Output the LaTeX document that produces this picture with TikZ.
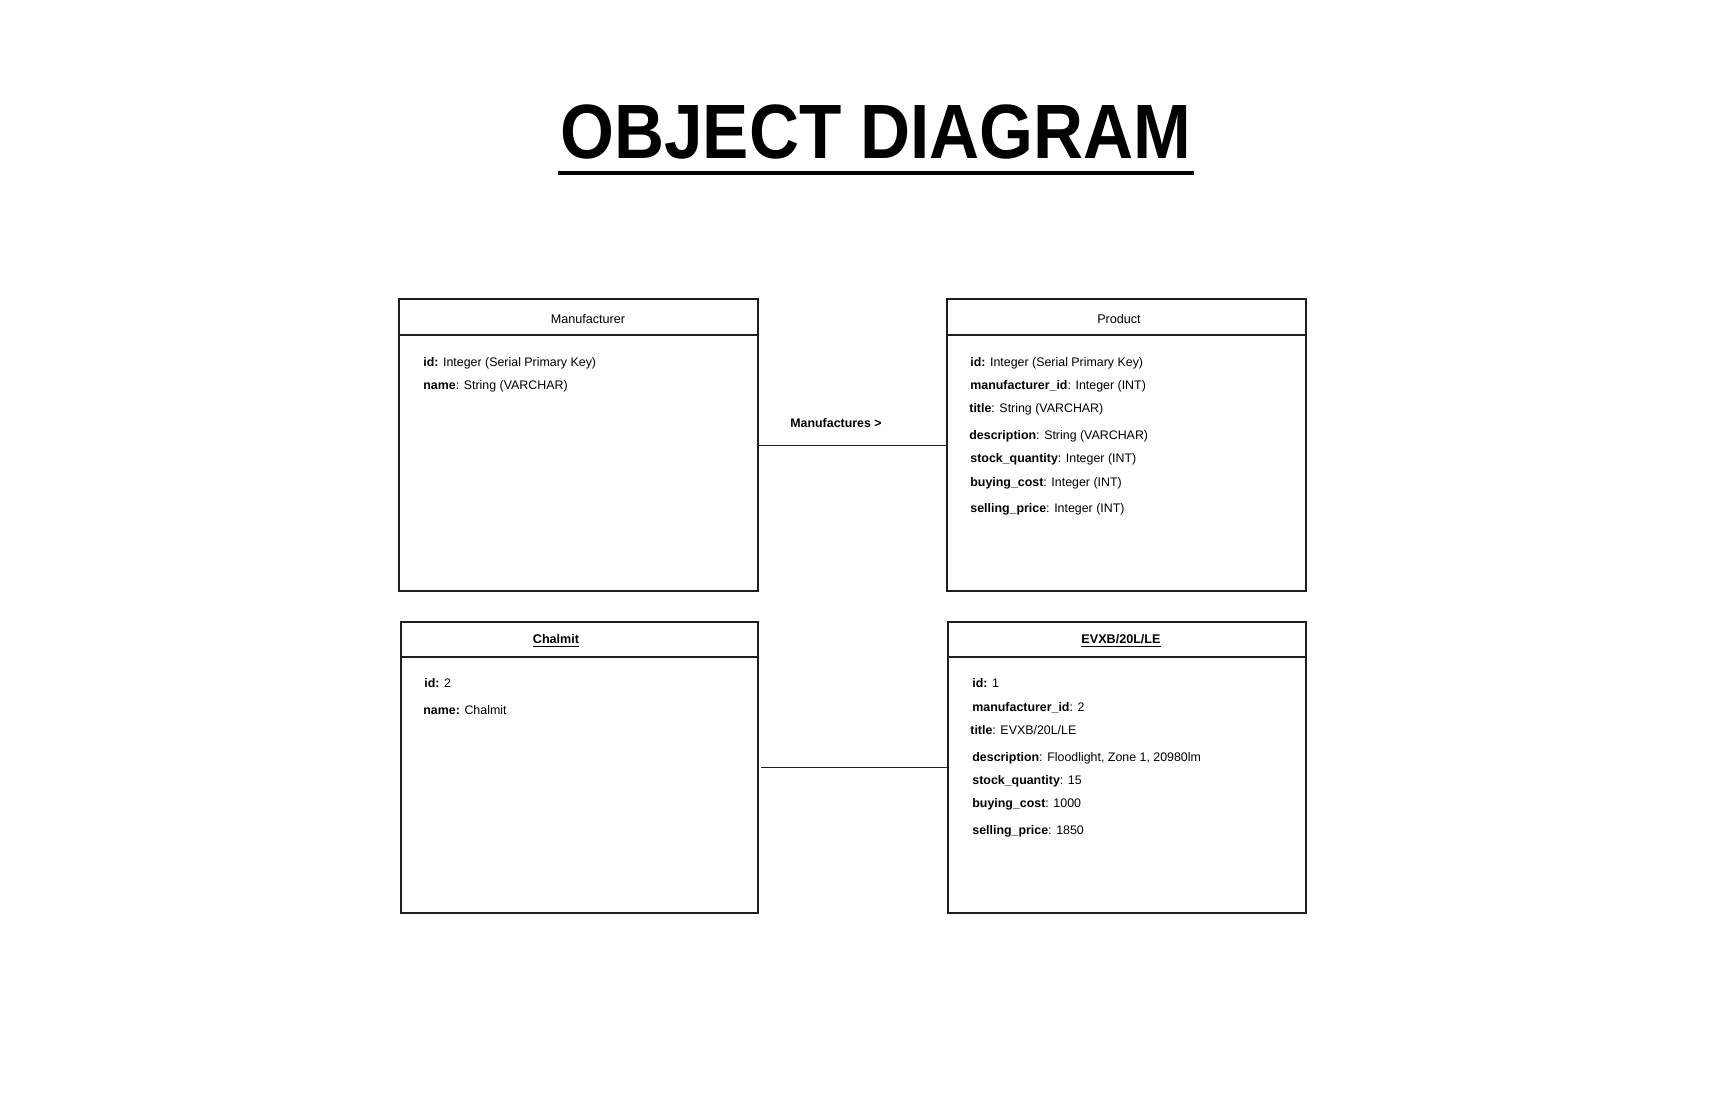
\documentclass[tikz,border=0pt]{standalone}
\usepackage{fontspec}
\setmainfont{Liberation Sans}
\usepackage{graphicx}
\definecolor{edge}{HTML}{1E1E1E}
\begin{document}
\begin{tikzpicture}[x=0.5pt,y=-0.5pt,
  box/.style={draw=edge, line width=0.55pt, rectangle, inner sep=0pt, outer sep=0pt, fill=white},
  hdr/.style={anchor=base, inner sep=0pt, font=\fontsize{6.3pt}{7.5pt}\selectfont},
  attr/.style={anchor=base west, inner sep=0pt, font=\fontsize{6.2pt}{7.5pt}\selectfont},
  conn/.style={draw=edge, line width=0.5pt},
  sep/.style={draw=edge, line width=0.55pt}]
\useasboundingbox[fill=white] (0,0) rectangle (1728,1117);

% title
\node[anchor=base, inner sep=0pt, font=\fontsize{38.5pt}{40pt}\selectfont\bfseries] (title) at (876,159) {\scalebox{0.9}[1.0]{OBJECT DIAGRAM}};
\draw[line width=2.3pt] (558,173) -- (1194,173);

% boxes
\node[box, minimum width=179.5pt, minimum height=146pt] (mfr) at (578.5,445) {};
\node[box, minimum width=179.5pt, minimum height=146pt] (prod) at (1126.5,445) {};
\node[box, minimum width=178.5pt, minimum height=145.5pt] (chal) at (579.5,767.5) {};
\node[box, minimum width=179pt, minimum height=145.5pt] (evx) at (1127,767.5) {};

% header separators
\draw[sep] ([yshift=-18pt]mfr.north west) -- ([yshift=-18pt]mfr.north east);
\draw[sep] ([yshift=-18pt]prod.north west) -- ([yshift=-18pt]prod.north east);
\draw[sep] ([yshift=-17.5pt]chal.north west) -- ([yshift=-17.5pt]chal.north east);
\draw[sep] ([yshift=-17.5pt]evx.north west) -- ([yshift=-17.5pt]evx.north east);

% headers
\node[hdr] (mfrh) at (588,323.5) {Manufacturer};
\node[hdr] (prodh) at (1119,323.5) {Product};
\node[hdr] (chalh) at (556,643.5) {\textbf{\underline{Chalmit}}};
\node[hdr] (evxh) at (1121,643.5) {\textbf{\underline{EVXB/20L/LE}}};

% Manufacturer attributes
\node[attr] (m1) at (423,366) {\textbf{id:} Integer (Serial Primary Key)};
\node[attr] (m2) at (423,389.5) {\textbf{name}: String (VARCHAR)};

% Product attributes
\node[attr] (p1) at (970,366) {\textbf{id:} Integer (Serial Primary Key)};
\node[attr] (p2) at (970,389.5) {\textbf{manufacturer\_id}: Integer (INT)};
\node[attr] (p3) at (969,412.5) {\textbf{title}: String (VARCHAR)};
\node[attr] (p4) at (969,439) {\textbf{description}: String (VARCHAR)};
\node[attr] (p5) at (970,462.5) {\textbf{stock\_quantity}: Integer (INT)};
\node[attr] (p6) at (970,486.5) {\textbf{buying\_cost}: Integer (INT)};
\node[attr] (p7) at (970,512) {\textbf{selling\_price}: Integer (INT)};

% Chalmit attributes
\node[attr] (c1) at (424,687) {\textbf{id:} 2};
\node[attr] (c2) at (423,714) {\textbf{name:} Chalmit};

% EVXB attributes
\node[attr] (e1) at (972,687) {\textbf{id:} 1};
\node[attr] (e2) at (972,711) {\textbf{manufacturer\_id}: 2};
\node[attr] (e3) at (970,734.5) {\textbf{title}: EVXB/20L/LE};
\node[attr] (e4) at (972,761) {\textbf{description}: Floodlight, Zone 1, 20980lm};
\node[attr] (e5) at (972,784) {\textbf{stock\_quantity}: 15};
\node[attr] (e6) at (972,807.5) {\textbf{buying\_cost}: 1000};
\node[attr] (e7) at (972,834) {\textbf{selling\_price}: 1850};

% connectors
\draw[conn] (mfr.east) -- (prod.west);
\node[anchor=base, inner sep=0pt, font=\fontsize{6.2pt}{7.5pt}\selectfont\bfseries] (lbl) at (836,427.5) {Manufactures >};
\draw[conn] ([xshift=1.5pt]chal.east) -- (evx.west);
\end{tikzpicture}
\end{document}
